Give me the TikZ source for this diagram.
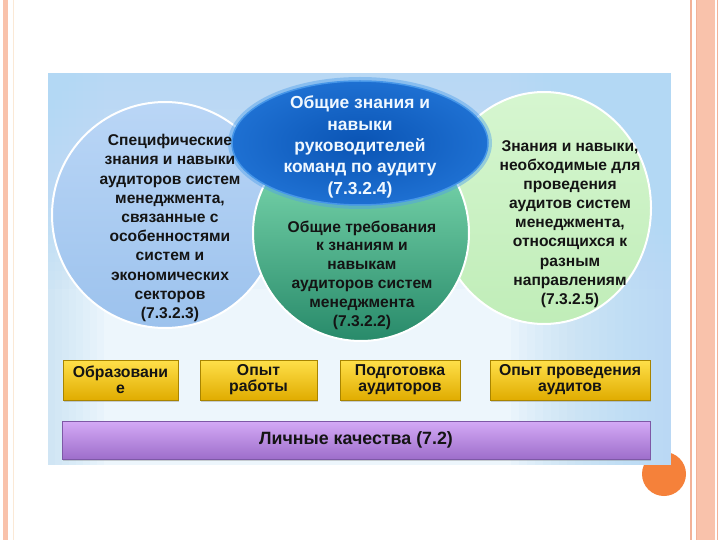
\documentclass[tikz,border=0pt]{standalone}
\usepackage{fontspec}
\setmainfont{Liberation Sans}
\usetikzlibrary{shapes.geometric,shadows}
\definecolor{salmon}{HTML}{F9C2AB}
\definecolor{salmonline}{HTML}{F2B298}
\definecolor{paleline}{HTML}{FBE9D6}
\definecolor{orangeC}{HTML}{F5813A}
\definecolor{panelBase}{HTML}{EDF6FC}
\definecolor{panelEdge}{HTML}{B3D8F4}
\definecolor{txt}{HTML}{141414}
\definecolor{goldTop}{HTML}{FFE04A}
\definecolor{gold}{HTML}{F5C800}
\definecolor{goldBot}{HTML}{E0AC00}
\definecolor{goldLine}{HTML}{A88400}
\definecolor{lilacTop}{HTML}{D4AAF6}
\definecolor{lilac}{HTML}{C490EC}
\definecolor{lilacBot}{HTML}{9E6ECB}
\definecolor{lilacLine}{HTML}{7E58A6}
\tikzset{
  circtext/.style={align=center, text=txt, inner sep=0, font=\fontsize{15.6}{19.2}\selectfont\bfseries},
  bubble/.style={circle, draw=white, line width=2pt, inner sep=0},
  barbox/.style={rectangle, inner sep=0, line width=0.7pt,
     drop shadow={shadow xshift=1pt, shadow yshift=-1.5pt, opacity=0.35},
     align=center, text=txt, font=\fontsize{15.8}{16}\selectfont\bfseries},
  goldbox/.style={barbox, top color=goldTop, middle color=gold, bottom color=goldBot, draw=goldLine},
  lilacbox/.style={barbox, top color=lilacTop, middle color=lilac, bottom color=lilacBot, draw=lilacLine},
}
\begin{document}
\begin{tikzpicture}[x=1pt,y=-1pt]
\useasboundingbox (0,0) rectangle (720,540);
\fill[white] (0,0) rectangle (720,540);
% page borders
\fill[salmon] (3,0) rectangle (8,540);
\draw[paleline, line width=1pt] (13,0) -- (13,540);
\draw[salmonline, line width=1.5pt] (691,0) -- (691,540);
\draw[salmonline, line width=0.8pt] (696,0) -- (696,540);
\fill[salmon] (697,0) rectangle (715,540);
\draw[salmonline, line width=0.8pt] (717.5,0) -- (717.5,540);
% orange circle
\node[circle, fill=orangeC, minimum size=44pt, inner sep=0] (oc) at (664,474) {};
% panel background: base + stacked translucent strips for soft gradients
\fill[panelBase] (48,73) rectangle (671,465);
\foreach \i in {1,...,24} {
  \fill[panelEdge, opacity=0.07] (48,73) rectangle (671,{73+\i*9});
}
\foreach \i in {1,...,20} {
  \fill[panelEdge, opacity=0.08] ({671-\i*8},73) rectangle (671,465);
}
\foreach \i in {1,...,8} {
  \fill[panelEdge, opacity=0.07] (48,73) rectangle ({48+\i*7},465);
}
% circles
\node[bubble, top color={rgb,255:red,186;green,214;blue,246}, bottom color={rgb,255:red,156;green,194;blue,237}, minimum size=226pt] (lc) at (165,215) {};
\node[bubble, ellipse, top color={rgb,255:red,214;green,246;blue,208}, bottom color={rgb,255:red,192;green,237;blue,184}, minimum width=214pt, minimum height=232pt] (rc) at (544,208) {};
\node[bubble, top color={rgb,255:red,138;green,230;blue,186}, middle color={rgb,255:red,78;green,195;blue,150}, bottom color={rgb,255:red,40;green,138;blue,106}, minimum size=216pt] (mc) at (361,233) {};
% top ellipse
\node[ellipse, fill={rgb,255:red,80;green,160;blue,235}, opacity=0.45, minimum width=264pt, minimum height=132pt, inner sep=0] (eg) at (360,143) {};
\node[ellipse, inner color={rgb,255:red,10;green,84;blue,180}, outer color={rgb,255:red,30;green,112;blue,210}, draw={rgb,255:red,70;green,150;blue,232}, line width=1.5pt, minimum width=256pt, minimum height=124pt, inner sep=0] (te) at (360,143) {};
% texts
\node[circtext] (lt) at (170,228) {Специфические\\знания и навыки\\аудиторов систем\\менеджмента,\\связанные с\\особенностями\\систем и\\экономических\\секторов\\(7.3.2.3)};
\node[circtext, font=\fontsize{15.6}{18.8}\selectfont\bfseries] (mt) at (362,275) {Общие требования\\к знаниям и\\навыкам\\аудиторов систем\\менеджмента\\(7.3.2.2)};
\node[circtext, font=\fontsize{15.6}{19.1}\selectfont\bfseries] (rt) at (570,224) {Знания и навыки,\\необходимые для\\проведения\\аудитов систем\\менеджмента,\\относящихся к\\разным\\направлениям\\(7.3.2.5)};
\node[circtext, text={rgb,255:red,240;green,248;blue,255}, font=\fontsize{17.4}{21.3}\selectfont\bfseries] (tt) at (360,147) {Общие знания и\\навыки\\руководителей\\команд по аудиту\\(7.3.2.4)};
% boxes
\node[goldbox, minimum width=115pt, minimum height=40pt] (b1) at (120.5,380) {Образовани\\е};
\node[goldbox, minimum width=117pt, minimum height=40pt] (b2) at (258.5,380) {Опыт\\работы};
\node[goldbox, minimum width=120pt, minimum height=40pt] (b3) at (400,380) {Подготовка\\аудиторов};
\node[goldbox, minimum width=160pt, minimum height=40pt] (b4) at (570,380) {Опыт проведения\\аудитов};
\node[lilacbox, minimum width=588pt, minimum height=38pt, font=\fontsize{17.8}{19}\selectfont\bfseries] (pq) at (356,440) {Личные качества (7.2)};
\end{tikzpicture}
\end{document}
